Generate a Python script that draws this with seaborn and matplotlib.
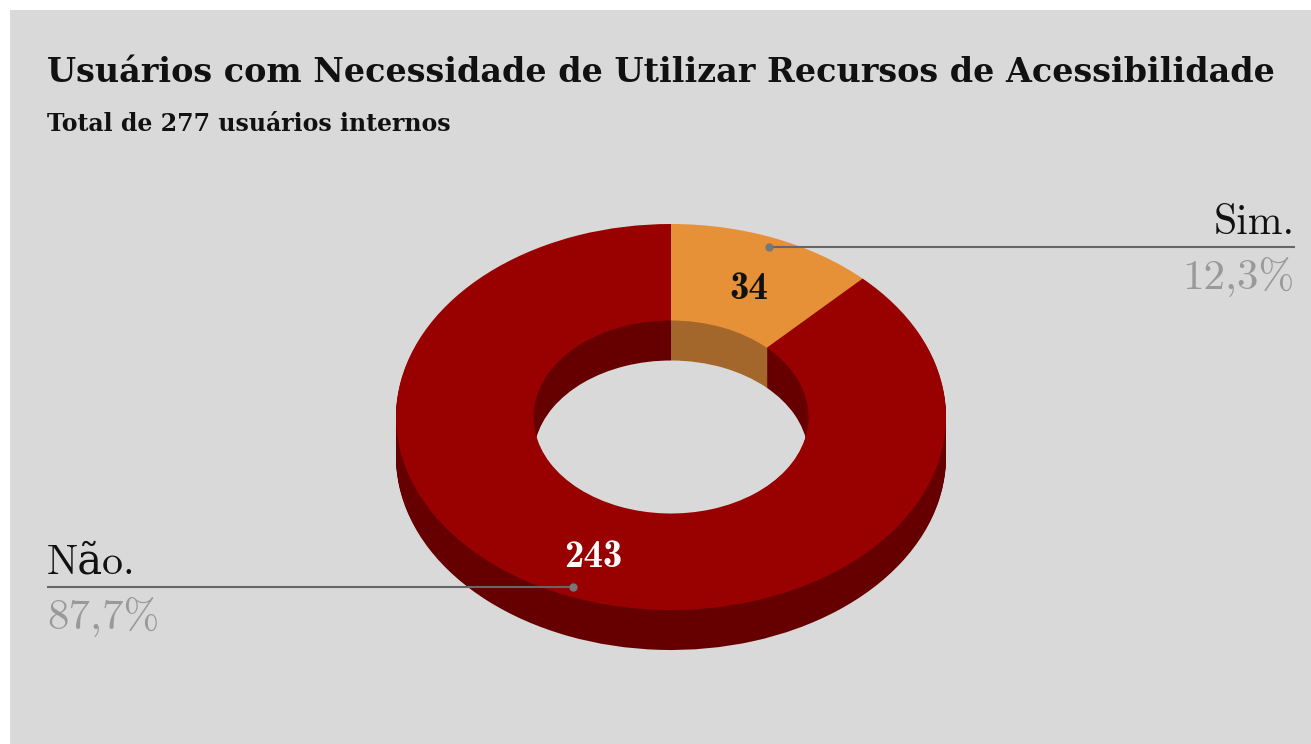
import numpy as np
import matplotlib
matplotlib.use("Agg")
import matplotlib.pyplot as plt
from matplotlib.patches import Rectangle
import seaborn as sns

# Dados do gráfico
categorias = ["Sim.", "Não."]
usuarios = [34, 243]
cores_topo = ["#E69138", "#990000"]
cores_lado = ["#A3672B", "#660000"]
titulo = "Usuários com Necessidade de Utilizar Recursos de Acessibilidade"
subtitulo = "Total de 277 usuários internos"

total = sum(usuarios)
pct = [v / total * 100 for v in usuarios]

sns.set_theme(style="white")
plt.rcParams['font.family'] = ['DejaVu Serif']

W, H = 1311, 744
fig = plt.figure(figsize=(W / 100, H / 100), dpi=100)
fig.patch.set_facecolor("white")
fig.add_artist(Rectangle((10 / W, 0), 1 - 10 / W, 1 - 10 / H, transform=fig.transFigure,
                         facecolor="#d9d9d9", edgecolor="none", zorder=-1))

# rosca "3D": centro, raios e profundidade em pixels
cx, cy, rx, ry, prof = 671, 417, 275, 193, 40
depth = prof / ry
pad = 0.05
dax = fig.add_axes([(cx - rx * (1 + pad)) / W,
                    (H - (cy + ry * (1 + pad) + prof)) / H,
                    2 * rx * (1 + pad) / W,
                    (2 * ry * (1 + pad) + prof) / H], zorder=1)

# camadas escuras empilhadas formam a lateral e a parede interna
n = 40
for k in range(n, 0, -1):
    dax.pie(usuarios, colors=cores_lado, radius=1, center=(0, -depth * k / n),
            startangle=90, counterclock=False,
            wedgeprops=dict(width=0.5, linewidth=0))

wedges, textos, autotextos = dax.pie(
    usuarios, colors=cores_topo, radius=1, startangle=90, counterclock=False,
    wedgeprops=dict(width=0.5, linewidth=0),
    autopct=lambda p: f"{p * total / 100:.0f}", pctdistance=0.75,
    textprops=dict(fontfamily="cmb10", fontsize=28))
autotextos[0].set_color("#111111")
autotextos[1].set_color("white")
for t in autotextos:
    tx, ty = t.get_position()
    t.set_position((tx, ty - 0.035))

dax.set_xlim(-1 - pad, 1 + pad)
dax.set_ylim(-1 - pad - depth, 1 + pad)
dax.set_aspect("auto")
dax.axis("off")

# camada de textos em coordenadas de pixel
ax = fig.add_axes([0, 0, 1, 1], zorder=2)
ax.set_xlim(0, W)
ax.set_ylim(H, 0)
ax.axis("off")

ax.text(47, 82, titulo, fontsize=24, fontweight="bold", color="#111111", va="baseline")
ax.text(47, 131, subtitulo, fontsize=17, fontweight="bold", color="#111111", va="baseline")

inicio = 0
for cat, v, p in zip(categorias, usuarios, pct):
    meio = np.deg2rad((inicio + v / 2) / total * 360)
    inicio += v
    disp = dax.transData.transform((0.95 * np.sin(meio), 0.95 * np.cos(meio)))
    x, y = ax.transData.inverted().transform(disp)
    if np.sin(meio) > 0:
        xe, ha = 1295, "right"
    else:
        xe, ha = 47, "left"
    ax.plot([x, xe], [y, y], color="#666666", lw=1.5, solid_capstyle="butt")
    ax.plot(x, y, "o", ms=5, color="#777777")
    ax.text(xe, y - 13, cat, fontsize=30, color="#111111", ha=ha, va="baseline",
            family=["cmr10", "DejaVu Serif"])
    ax.text(xe, y + 42, f"{p:.1f}%".replace(".", ","), fontsize=31, color="#999999",
            ha=ha, va="baseline", family=["cmr10", "DejaVu Serif"])

fig.savefig("out.png", dpi=100)
